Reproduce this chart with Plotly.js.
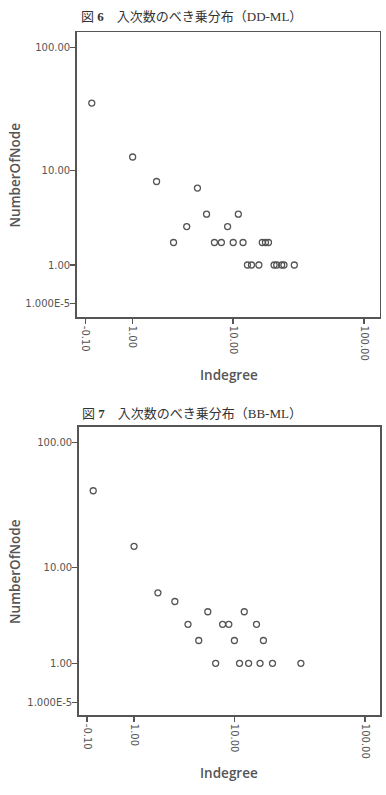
<!DOCTYPE html>
<html>
<head>
<meta charset="utf-8">
<script src="https://cdn.plot.ly/plotly-3.0.1.min.js"></script>
<style>
html,body{margin:0;padding:0;background:#fff;}
#chart{width:386px;height:795px;}
</style>
</head>
<body>
<div id="chart"></div>
<script>
// ---- Data ----
const titles = ["図 <b>6</b>　入次数のべき乗分布（DD-ML）", "図 <b>7</b>　入次数のべき乗分布（BB-ML）"];
const xAxisTitle = "Indegree";
const yAxisTitle = "NumberOfNode";

// Figure 6 (DD-ML)
const ddIndegree = [0, 1, 2, 5, 6, 11, 4, 9, 3, 7, 8, 10, 12, 17, 18, 19, 13, 14, 16, 21, 22, 24, 25, 30];
const ddCount    = [36, 13, 8, 7, 4, 4, 3, 3, 2, 2, 2, 2, 2, 2, 2, 2, 1, 1, 1, 1, 1, 1, 1, 1];

// Figure 7 (BB-ML)
const bbIndegree = [0, 1, 2, 3, 6, 12, 4, 8, 9, 15, 5, 10, 17, 7, 11, 13, 16, 20, 33];
const bbCount    = [42, 15, 6, 5, 4, 4, 3, 3, 3, 3, 2, 2, 2, 1, 1, 1, 1, 1, 1];

// Axis tick values (original units) and labels, axis is log10(value + 1)
const xTickValues = [-0.1, 1, 10, 100];
const xTickLabels = ["-0.10", "1.00", "10.00", "100.00"];
const yTickValues = [0.00001, 1, 10, 100];
const yTickLabels = ["1.000E-5", "1.00", "10.00", "100.00"];

// ---- Drawing ----
const shift = v => v.map(a => a + 1);   // log(x+1) scale
const gray = '#555555';
const marker = {symbol: 'circle-open', size: 6, color: gray, line: {color: gray, width: 1.3}};

const traces = [
  {x: shift(ddIndegree), y: shift(ddCount), type: 'scatter', mode: 'markers',
   marker: marker, xaxis: 'x', yaxis: 'y', hoverinfo: 'skip'},
  {x: shift(bbIndegree), y: shift(bbCount), type: 'scatter', mode: 'markers',
   marker: marker, xaxis: 'x2', yaxis: 'y2', hoverinfo: 'skip'}
];

const W = 386, H = 795;
const px = v => v / W;
const py = v => 1 - v / H;

function xa(domain, range, anchor) {
  return {type: 'log', domain: domain, range: range, anchor: anchor, showgrid: false, zeroline: false,
    showline: true, mirror: true, linecolor: gray, linewidth: 1.5,
    ticks: 'outside', ticklen: 5, tickwidth: 1.5, tickcolor: gray,
    tickmode: 'array', tickvals: shift(xTickValues), ticktext: xTickLabels,
    tickangle: 90, tickfont: {family: 'DejaVu Sans, sans-serif', size: 10, color: gray}};
}
function ya(domain, range, anchor) {
  return {type: 'log', domain: domain, range: range, anchor: anchor, showgrid: false, zeroline: false,
    showline: true, mirror: true, linecolor: gray, linewidth: 1.5,
    ticks: 'outside', ticklen: 5, tickwidth: 1.5, tickcolor: gray,
    ticklabelstandoff: -2,
    tickmode: 'array', tickvals: shift(yTickValues), ticktext: yTickLabels,
    tickfont: {family: 'DejaVu Sans, sans-serif', size: 10, color: gray}};
}

const titleFont = {family: 'Liberation Serif, Noto Sans CJK JP, serif', size: 13, color: '#333'};
const axFont = {family: 'Open Sans, sans-serif', size: 13.5, color: gray, weight: 600};

const layout = {
  width: W, height: H, margin: {l: 0, r: 0, t: 0, b: 0},
  paper_bgcolor: '#fff', plot_bgcolor: '#fff', showlegend: false,
  xaxis: xa([px(76.7), px(379.7)], [-0.111, 2.12], 'y'),
  yaxis: ya([py(317.3), py(32)], [-0.108, 2.124], 'x'),
  xaxis2: xa([px(78.7), px(380)], [-0.107, 2.115], 'y2'),
  yaxis2: ya([py(715.3), py(426.7)], [-0.1005, 2.128], 'x2'),
  annotations: [
    {text: titles[0], xref: 'paper', yref: 'paper', x: px(191), y: py(17), showarrow: false, font: titleFont, xanchor: 'center', yanchor: 'middle'},
    {text: titles[1], xref: 'paper', yref: 'paper', x: px(191.5), y: py(413), showarrow: false, font: titleFont, xanchor: 'center', yanchor: 'middle'},
    {text: xAxisTitle, xref: 'paper', yref: 'paper', x: px(228.5), y: py(375), showarrow: false, font: axFont, xanchor: 'center', yanchor: 'middle'},
    {text: yAxisTitle, xref: 'paper', yref: 'paper', x: px(14.5), y: py(175), showarrow: false, font: axFont, textangle: -90, xanchor: 'center', yanchor: 'middle'},
    {text: xAxisTitle, xref: 'paper', yref: 'paper', x: px(229.2), y: py(773.3), showarrow: false, font: axFont, xanchor: 'center', yanchor: 'middle'},
    {text: yAxisTitle, xref: 'paper', yref: 'paper', x: px(14.5), y: py(571.5), showarrow: false, font: axFont, textangle: -90, xanchor: 'center', yanchor: 'middle'}
  ]
};

Plotly.newPlot('chart', traces, layout, {staticPlot: true, displayModeBar: false});
</script>
</body>
</html>
